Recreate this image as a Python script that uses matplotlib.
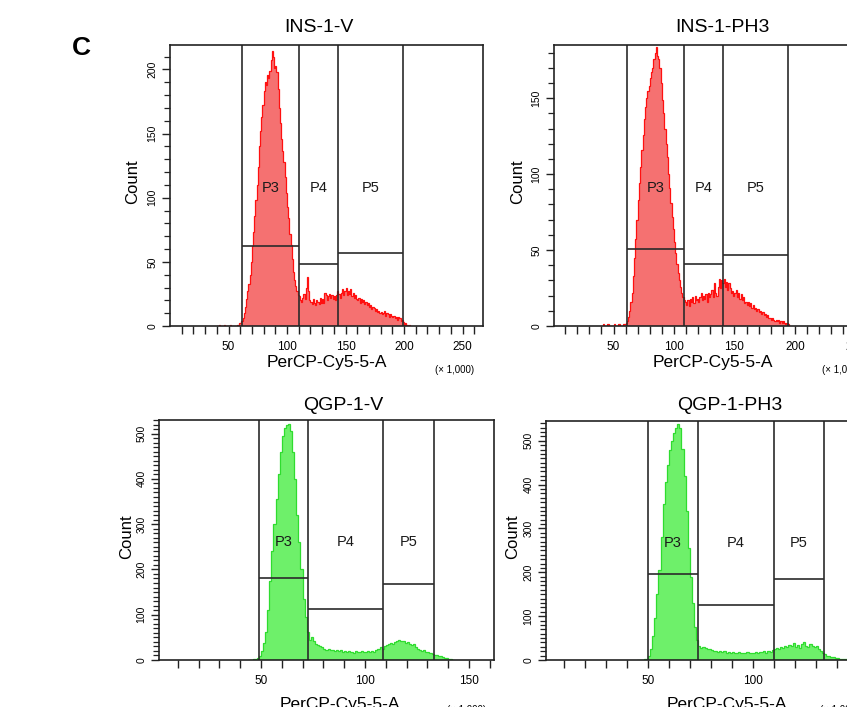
import numpy as np
import matplotlib
matplotlib.use('Agg')
import matplotlib.pyplot as plt
from matplotlib.ticker import FixedLocator, MultipleLocator

plt.rcParams['font.family'] = ['Liberation Sans', 'DejaVu Sans']

W, H = 847, 707

# histogram counts, one bin per 1,000 units of PerCP-Cy5-5-A, first bin at *_start
ins_v_start = 40
ins_v_counts = [
    0, 0, 1, 0, 0, 0, 1, 0, 0, 0,
    0, 1, 0, 0, 0, 0, 0, 1, 0, 2,
    2, 4, 6, 10, 15, 21, 27, 33, 40, 50,
    62, 73, 86, 98, 110, 124, 140, 152, 163, 172,
    183, 190, 188, 196, 193, 199, 207, 214, 210, 201,
    203, 198, 185, 170, 158, 146, 136, 128, 116, 104,
    93, 84, 72, 63, 52, 42, 36, 31, 27, 24,
    23, 20, 19, 22, 25, 21, 30, 38, 27, 20,
    19, 17, 21, 18, 16, 20, 19, 17, 22, 18,
    21, 18, 26, 24, 20, 23, 25, 22, 24, 21,
    23, 20, 24, 27, 25, 22, 26, 29, 24, 27,
    30, 24, 27, 25, 29, 23, 26, 22, 24, 21,
    20, 22, 18, 21, 19, 20, 17, 19, 16, 18,
    15, 16, 13, 15, 14, 12, 13, 11, 12, 10,
    11, 9, 10, 12, 8, 10, 9, 7, 9, 8,
    7, 8, 6, 7, 5, 7, 6, 4, 5, 3,
    1, 2, 1, 0, 1,
]
ins_v_gates = [61.5, 110, 143.6, 199]
ins_v_levels = [62, 48, 57]

ins_ph3_start = 40
ins_ph3_counts = [
    0, 1, 0, 0, 0, 1, 0, 0, 0, 0,
    1, 0, 0, 0, 1, 0, 0, 0, 1, 1,
    2, 3, 6, 10, 16, 22, 33, 45, 57, 70,
    83, 94, 105, 116, 126, 136, 144, 150, 155, 158,
    163, 167, 170, 176, 180, 184, 178, 176, 170, 160,
    149, 140, 130, 120, 111, 100, 91, 81, 72, 64,
    55, 48, 41, 35, 30, 26, 22, 19, 17, 16,
    14, 17, 13, 18, 16, 19, 15, 20, 17, 18,
    16, 19, 22, 17, 20, 18, 21, 16, 22, 19,
    21, 24, 19, 28, 22, 20, 26, 31, 25, 30,
    28, 31, 26, 29, 24, 28, 25, 22, 23, 20,
    22, 24, 19, 22, 18, 21, 17, 19, 15, 16,
    14, 16, 13, 15, 12, 14, 11, 12, 10, 11,
    9, 10, 8, 9, 7, 8, 6, 7, 5, 5,
    4, 5, 4, 3, 4, 3, 4, 2, 3, 2,
    3, 2, 1, 2, 1,
]
ins_ph3_gates = [61, 108, 140.5, 194]
ins_ph3_levels = [51, 41, 47]

qgp_v_start = 44
qgp_v_counts = [
    0, 1, 2, 3, 5, 8,
    20, 38, 62, 110, 175, 240, 300, 355, 410, 460,
    495, 512, 520, 522, 505, 460, 400, 320, 260, 200,
    135, 95, 62, 45, 50, 42, 36, 33, 30, 28,
    25, 23, 24, 21, 22, 20, 23, 19, 21, 18,
    19, 17, 20, 18, 16, 19, 17, 18, 20, 17,
    18, 19, 17, 20, 18, 22, 25, 28, 24, 30,
    33, 36, 38, 35, 40, 42, 44, 41, 43, 38,
    40, 36, 33, 35, 28, 25, 22, 20, 21, 18,
    17, 15, 14, 12, 10, 9, 8, 6, 5, 4,
    3, 2, 1,
]
qgp_v_gates = [49, 72.6, 108.7, 133]
qgp_v_levels = [181, 112, 167]

qgp_ph3_start = 45
qgp_ph3_counts = [
    0, 0, 1, 2, 3,
    8, 25, 55, 95, 150, 205, 280, 355, 405, 445,
    480, 500, 518, 530, 538, 528, 482, 420, 340, 255,
    190, 130, 75, 45, 32, 28, 30, 27, 25, 24,
    22, 20, 21, 19, 20, 18, 21, 17, 19, 16,
    18, 17, 16, 19, 15, 17, 16, 18, 15, 17,
    16, 18, 17, 19, 18, 20, 17, 21, 19, 22,
    25, 28, 24, 30, 27, 33, 29, 35, 31, 38,
    30, 34, 28, 36, 41, 32, 30, 37, 33, 29,
    31, 24, 20, 16, 14, 10, 8, 7, 6, 5,
    4, 3, 3, 2, 2, 1, 1, 1,
]
qgp_ph3_gates = [50, 74, 110, 134]
qgp_ph3_levels = [195, 125, 184]

gate_names = ['P3', 'P4', 'P5']

RED_FILL, RED_EDGE = '#f57171', '#ff1010'
GREEN_FILL, GREEN_EDGE = '#6ef06a', '#2fdc2f'
GATE_COLOR = '#2b2b2b'

# layout in pixels: box = (left, top, right, bottom)
panels = [
    dict(title='INS-1-V', box=(170, 45, 483, 326), xlim=(0, 267.5), ylim=(0, 219), ystep=50,
         start=ins_v_start, counts=ins_v_counts, gates=ins_v_gates, levels=ins_v_levels,
         fill=RED_FILL, edge=RED_EDGE,
         title_xy=(319, 28), count_xy=(133, 182), xlab_xy=(327, 362), unit_xy=(455, 370)),
    dict(title='INS-1-PH3', box=(554, 45, 876, 326), xlim=(0.8, 267), ylim=(0, 185), ystep=50,
         start=ins_ph3_start, counts=ins_ph3_counts, gates=ins_ph3_gates, levels=ins_ph3_levels,
         fill=RED_FILL, edge=RED_EDGE,
         title_xy=(722, 28), count_xy=(518, 182), xlab_xy=(713, 363), unit_xy=(842, 370)),
    dict(title='QGP-1-V', box=(159, 420, 494, 660), xlim=(1, 162), ylim=(0, 530), ystep=100,
         start=qgp_v_start, counts=qgp_v_counts, gates=qgp_v_gates, levels=qgp_v_levels,
         fill=GREEN_FILL, edge=GREEN_EDGE,
         title_xy=(343, 405), count_xy=(127, 537), xlab_xy=(340, 705), unit_xy=(467, 710)),
    dict(title='QGP-1-PH3', box=(546, 421, 887, 660), xlim=(1.4, 164), ylim=(0, 545), ystep=100,
         start=qgp_ph3_start, counts=qgp_ph3_counts, gates=qgp_ph3_gates, levels=qgp_ph3_levels,
         fill=GREEN_FILL, edge=GREEN_EDGE,
         title_xy=(730, 405), count_xy=(513, 537), xlab_xy=(727, 705), unit_xy=(840, 710)),
]


def fx(x):
    return x / W


def fy(y):
    return 1 - y / H


fig = plt.figure(figsize=(W / 100, H / 100), dpi=100)

for p in panels:
    l, t, r, b = p['box']
    ax = fig.add_axes([fx(l), fy(b), (r - l) / W, (b - t) / H])
    counts = np.array(p['counts'], dtype=float)
    edges = p['start'] + np.arange(len(counts) + 1)

    ax.stairs(counts, edges, fill=True, color=p['fill'], lw=0)
    ax.stairs(counts, edges, color=p['edge'], lw=0.9)

    # gates
    g = p['gates']
    for xg in g:
        ax.axvline(xg, color=GATE_COLOR, lw=1.2)
    for i, name in enumerate(gate_names):
        ax.hlines(p['levels'][i], g[i], g[i + 1], color=GATE_COLOR, lw=1.2)
        ax.text((g[i] + g[i + 1]) / 2, 0.49, name, transform=ax.get_xaxis_transform(),
                ha='center', va='center', fontsize=10.5, color='#1a1a1a')

    ax.set_xlim(*p['xlim'])
    ax.set_ylim(*p['ylim'])

    xmax = p['xlim'][1]
    ax.xaxis.set_major_locator(FixedLocator(np.arange(50, xmax, 50)))
    ax.xaxis.set_minor_locator(FixedLocator(np.arange(10, xmax, 10)))
    ax.yaxis.set_major_locator(MultipleLocator(p['ystep']))
    ax.yaxis.set_minor_locator(MultipleLocator(10))
    ax.tick_params(axis='x', which='both', direction='out', length=6, width=1, pad=5,
                   labelsize=8.5, color='#222222')
    ax.tick_params(axis='y', which='major', direction='out', length=6, width=1, pad=3,
                   labelsize=7.5, labelrotation=90, color='#222222')
    ax.tick_params(axis='y', which='minor', direction='out', length=4, width=0.9, color='#222222')
    for lab in ax.get_yticklabels():
        lab.set_va('center')
    for s in ax.spines.values():
        s.set_linewidth(1.2)
        s.set_color('#222222')

    fig.text(fx(p['title_xy'][0]), fy(p['title_xy'][1]), p['title'],
             ha='center', va='center', fontsize=14)
    fig.text(fx(p['count_xy'][0]), fy(p['count_xy'][1]), 'Count', rotation=90,
             ha='center', va='center', fontsize=12)
    fig.text(fx(p['xlab_xy'][0]), fy(p['xlab_xy'][1]), 'PerCP-Cy5-5-A',
             ha='center', va='center', fontsize=12.5)
    fig.text(fx(p['unit_xy'][0]), fy(p['unit_xy'][1]), '(\u00d7 1,000)',
             ha='center', va='center', fontsize=7)

fig.text(fx(81), fy(48), 'C', ha='center', va='center', fontsize=19, fontweight='bold')

fig.savefig('out.png', dpi=100)
